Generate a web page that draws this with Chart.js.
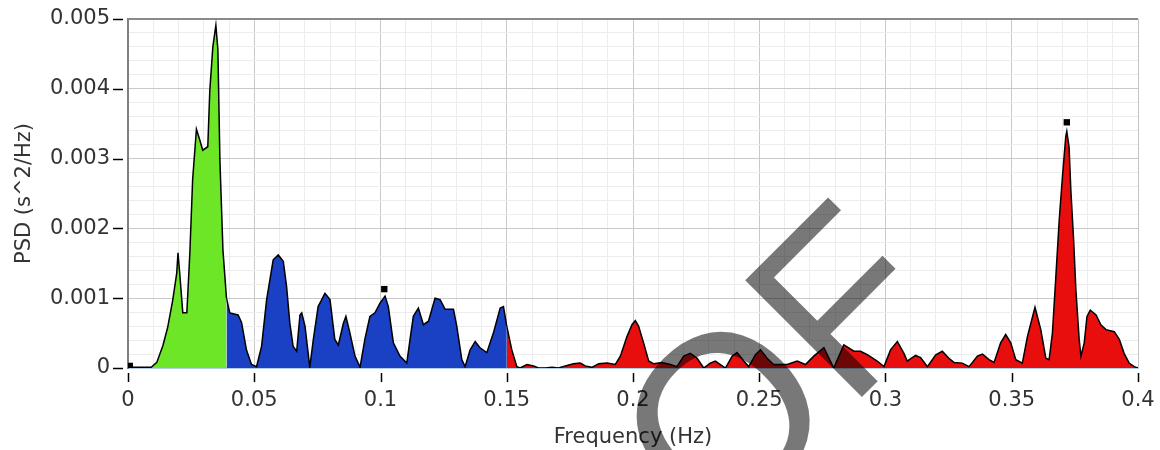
<!DOCTYPE html>
<html>
<head>
<meta charset="utf-8">
<title>PSD</title>
<script src="https://cdn.jsdelivr.net/npm/chart.js@4.4.1/dist/chart.umd.min.js"></script>
<style>
  html, body { margin: 0; padding: 0; background: #fff; }
  #wrap { width: 1160px; height: 450px; position: relative; }
</style>
</head>
<body>
<div id="wrap"><canvas id="psdChart"></canvas></div>
<script>
// VLF band (0 - 0.04 Hz), green
const vlfFreq = [0, 0.002, 0.0092, 0.0114, 0.0138, 0.0157, 0.0177, 0.0193, 0.0198, 0.0205, 0.0217, 0.0233, 0.0245, 0.0256, 0.0271, 0.0284, 0.0296, 0.0316, 0.0324, 0.0336, 0.0348, 0.0356, 0.0364, 0.0376, 0.039];
const vlfPsd = [0.00002, 0.00001, 0.00001, 0.00008, 0.00032, 0.00058, 0.00097, 0.00136, 0.00165, 0.00135, 0.00079, 0.00079, 0.00165, 0.0027, 0.00342, 0.00327, 0.00312, 0.00317, 0.00398, 0.0046, 0.00491, 0.00456, 0.00298, 0.00169, 0.001];

// LF band (0.04 - 0.15 Hz), blue
const lfFreq = [0.039, 0.0403, 0.0436, 0.045, 0.0469, 0.0489, 0.0509, 0.0529, 0.0549, 0.0575, 0.0595, 0.0615, 0.0628, 0.0641, 0.0654, 0.0668, 0.0681, 0.0688, 0.0701, 0.072, 0.0734, 0.0753, 0.078, 0.08, 0.0819, 0.0833, 0.0853, 0.0863, 0.0879, 0.0899, 0.0919, 0.0938, 0.0958, 0.0978, 0.0998, 0.1018, 0.1031, 0.1051, 0.1077, 0.1104, 0.1117, 0.113, 0.115, 0.117, 0.119, 0.1216, 0.1236, 0.1256, 0.1289, 0.1302, 0.1322, 0.1335, 0.1355, 0.1375, 0.1394, 0.1421, 0.1447, 0.1474, 0.1487, 0.15];
const lfPsd = [0.001, 0.00079, 0.00076, 0.00065, 0.00026, 0.00005, 0.00002, 0.00031, 0.00098, 0.00155, 0.00162, 0.00153, 0.00117, 0.00064, 0.00031, 0.00024, 0.00076, 0.00079, 0.0006, 0.00001, 0.00041, 0.00088, 0.00107, 0.00098, 0.00041, 0.00033, 0.00064, 0.00074, 0.0005, 0.00017, 0.00001, 0.00041, 0.00074, 0.00079, 0.00093, 0.00103, 0.00088, 0.00036, 0.00017, 0.00007, 0.00041, 0.00074, 0.00086, 0.00062, 0.00067, 0.001, 0.00098, 0.00084, 0.00084, 0.0006, 0.00012, 0.00002, 0.00026, 0.00038, 0.00029, 0.00022, 0.0005, 0.00086, 0.00088, 0.0006];

// HF band (0.15 - 0.4 Hz), red
const hfFreq = [0.15, 0.152, 0.154, 0.1553, 0.158, 0.1606, 0.1626, 0.1652, 0.1679, 0.1705,
  0.1732, 0.1764, 0.1791, 0.1811, 0.1837, 0.1864, 0.1897, 0.193, 0.195, 0.1976,
  0.1996, 0.2009, 0.2022, 0.2042, 0.2062, 0.2082, 0.2115, 0.2148, 0.2174, 0.2201,
  0.2227, 0.2254, 0.228, 0.2306, 0.2326, 0.2346, 0.2366, 0.2393, 0.2412, 0.2439,
  0.2458, 0.2485, 0.2505, 0.2531, 0.2557, 0.2611, 0.265, 0.2683, 0.2716, 0.2756,
  0.2795, 0.2835, 0.2875, 0.2901, 0.2928, 0.2967, 0.2994, 0.302, 0.3047, 0.3073,
  0.3086, 0.3119, 0.3139, 0.3166, 0.3199, 0.3225, 0.3251, 0.3271, 0.3304, 0.3331,
  0.3364, 0.3384, 0.341, 0.343, 0.3456, 0.3476, 0.3496, 0.3516, 0.3542, 0.3562,
  0.3592, 0.3615, 0.3635, 0.3648, 0.3661, 0.3674, 0.3688, 0.3701, 0.3714, 0.3718,
  0.3727, 0.3734, 0.3745, 0.3754, 0.3767, 0.3774, 0.3787, 0.3798, 0.3811, 0.3834,
  0.3853, 0.3873, 0.3906, 0.3926, 0.3945, 0.3965, 0.3985, 0.4];
const hfPsd = [0.0006, 0.00026, 0.00002, 0, 0.00005, 0.00003, 0, 0, 0.00001, 0,
  0.00003, 0.00006, 0.00007, 0.00003, 0.00001, 0.00006, 0.00007, 0.00005, 0.00017, 0.00045,
  0.00062, 0.00068, 0.0006, 0.00036, 0.0001, 0.00006, 0.00008, 0.00005, 0.00002, 0.00017,
  0.00021, 0.00014, 0, 0.00007, 0.0001, 0.00005, 0, 0.00017, 0.00022, 0.0001,
  0.00002, 0.00019, 0.00026, 0.00014, 0.00005, 0.00005, 0.0001, 0.00005, 0.00017, 0.00029,
  0, 0.00033, 0.00024, 0.00024, 0.00019, 0.0001, 0.00002, 0.00026, 0.00038, 0.00021,
  0.0001, 0.00018, 0.00015, 0.00002, 0.00019, 0.00024, 0.00014, 0.00008, 0.00007, 0.00002,
  0.00017, 0.0002, 0.00012, 0.00008, 0.00036, 0.00048, 0.00036, 0.00012, 0.00007, 0.00045,
  0.00087, 0.00055, 0.00014, 0.00012, 0.0005, 0.00127, 0.00212, 0.00275, 0.00332, 0.00339,
  0.00317, 0.00255, 0.00184, 0.00112, 0.00041, 0.00017, 0.00036, 0.00074, 0.00083, 0.00076,
  0.00062, 0.00055, 0.00052, 0.00041, 0.00021, 0.00007, 0.00002, 0];

// peak markers (black squares)
const peakFreq = [0.0007, 0.1015, 0.3718];
const peakPsd = [0.00003, 0.00113, 0.00352];

const FONT = '"DejaVu Sans", Verdana, sans-serif';

const zip = (xs, ys) => xs.map((x, i) => ({ x: x, y: ys[i] }));

const isMajorX = v => Math.round(v * 100) % 5 === 0;
const isMajorY = v => Math.round(v * 10000) % 10 === 0;

const band = (label, xs, ys, color) => ({
  label: label,
  data: zip(xs, ys),
  borderColor: '#000',
  borderWidth: 1.5,
  backgroundColor: color,
  fill: 'origin',
  pointRadius: 0,
  tension: 0
});

// tick marks with a small gap, plot frame, and the "OF" overlay
const extras = {
  id: 'extras',
  afterDraw(chart) {
    const { ctx, chartArea: a, scales: { x, y } } = chart;
    ctx.save();
    ctx.strokeStyle = '#000';
    ctx.lineWidth = 1.5;
    x.ticks.filter(t => isMajorX(t.value)).forEach(t => {
      const px = Math.round(x.getPixelForValue(t.value)) + 0.5;
      ctx.beginPath();
      ctx.moveTo(px, a.bottom + 5);
      ctx.lineTo(px, a.bottom + 14);
      ctx.stroke();
    });
    y.ticks.filter(t => isMajorY(t.value)).forEach(t => {
      const py = Math.round(y.getPixelForValue(t.value)) + 0.5;
      ctx.beginPath();
      ctx.moveTo(a.left - 15, py);
      ctx.lineTo(a.left - 5, py);
      ctx.stroke();
    });

    ctx.lineWidth = 2;
    ctx.strokeStyle = '#8a8a8a';
    ctx.beginPath();
    ctx.moveTo(a.left, a.top);
    ctx.lineTo(a.right, a.top);
    ctx.stroke();
    ctx.lineWidth = 1;
    ctx.strokeStyle = '#c4c4c4';
    ctx.beginPath();
    ctx.moveTo(a.right + 0.5, a.top);
    ctx.lineTo(a.right + 0.5, a.bottom);
    ctx.stroke();

    ctx.translate(716, 543);
    ctx.rotate(-Math.PI / 4);
    ctx.font = '240px "Liberation Sans", Arial, sans-serif';
    ctx.fillStyle = 'rgba(0, 0, 0, 0.53)';
    ctx.textBaseline = 'alphabetic';
    ctx.textAlign = 'left';
    ctx.fillText('OF', 0, 0);
    ctx.restore();
  }
};

new Chart(document.getElementById('psdChart'), {
  type: 'line',
  data: {
    datasets: [
      {
        label: 'Peaks',
        data: zip(peakFreq, peakPsd),
        showLine: false,
        pointStyle: 'rect',
        pointRadius: 4.5,
        pointBackgroundColor: '#000',
        pointBorderColor: '#000',
        pointBorderWidth: 0
      },
      band('VLF', vlfFreq, vlfPsd, '#6ee628'),
      band('LF', lfFreq, lfPsd, '#1a40c4'),
      band('HF', hfFreq, hfPsd, '#e80e0e')
    ]
  },
  options: {
    responsive: true,
    maintainAspectRatio: false,
    animation: false,
    layout: { padding: { top: 19, right: 22, bottom: 0, left: 0 } },
    plugins: {
      legend: { display: false },
      tooltip: { enabled: false }
    },
    scales: {
      x: {
        type: 'linear',
        min: 0,
        max: 0.4,
        afterFit: s => {
          s.height = 82;
          s.paddingLeft = 0;
          s.paddingRight = 0;
        },
        border: { display: true, color: '#b4cde6', width: 2 },
        grid: {
          drawTicks: false,
          color: c => (c.tick && isMajorX(c.tick.value)) ? '#c9c9c9' : '#ececec',
          lineWidth: 1
        },
        ticks: {
          stepSize: 0.01,
          autoSkip: false,
          maxRotation: 0,
          padding: 20,
          color: '#333',
          font: { family: FONT, size: 21 },
          callback: v => isMajorX(v) ? String(Math.round(v * 100) / 100) : ''
        },
        title: {
          display: true,
          text: 'Frequency (Hz)',
          color: '#333',
          font: { family: FONT, size: 21 },
          padding: { top: 0, bottom: 0 }
        }
      },
      y: {
        min: 0,
        max: 0.005,
        afterFit: s => {
          s.width = 128;
          s.paddingTop = 0;
          s.paddingBottom = 0;
        },
        border: { display: true, color: '#808080', width: 2 },
        grid: {
          drawTicks: false,
          color: c => (c.tick && isMajorY(c.tick.value)) ? '#c9c9c9' : '#ececec',
          lineWidth: 1
        },
        ticks: {
          stepSize: 0.0002,
          autoSkip: false,
          padding: 18,
          color: '#333',
          font: { family: FONT, size: 21 },
          callback: v => isMajorY(v) ? String(Math.round(v * 1000) / 1000) : ''
        },
        title: {
          display: true,
          text: 'PSD (s^2/Hz)',
          color: '#333',
          font: { family: FONT, size: 21 },
          padding: { top: 12, bottom: 0 }
        }
      }
    }
  },
  plugins: [extras]
});
</script>
</body>
</html>
